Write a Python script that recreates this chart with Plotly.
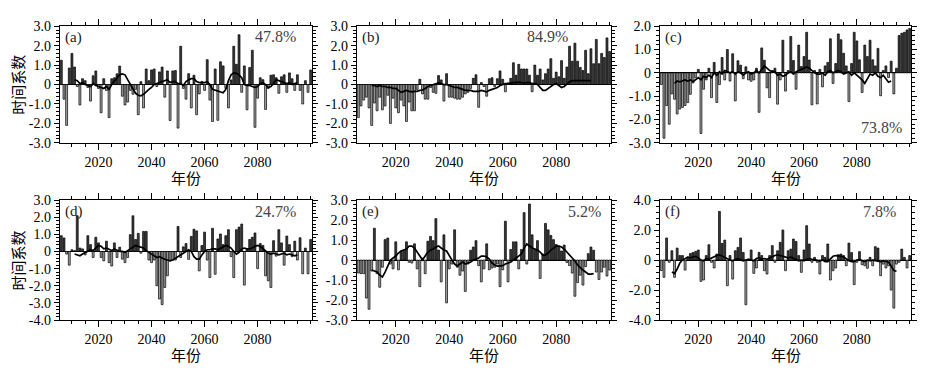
import plotly.graph_objects as go
from plotly.subplots import make_subplots

YEARS = list(range(2006, 2101))

bars_a = [1.25, -0.75, -2.1, 0.85, 1.6, 0.9, -0.1, -1.05, 0.3, 0.2,
          -0.15, -0.85, 0.45, 0.7, -0.2, -1.45, 0.3, -0.3, -1.7, 0.3,
          0.35, 0.55, 0.95, -0.6, -1.05, -0.9, -0.3, -0.5, -0.25, -1.55,
          0.15, -1.2, 0.8, 0.2, 0.75, 0.8, -0.1, 0.65, 0.9, -0.65,
          0.7, -1.85, 0.7, 0.72, -2.24, 1.97, -0.2, -0.75, 0.56, -1.2,
          0.48, -1.55, -0.48, 0.16, -0.3, 1.28, -0.8, -1.9, 0.8, -1.84,
          1.17, 0.96, -0.2, -1.2, 0.24, 1.97, 1.04, 2.56, -0.4, 0.96,
          -1.3, 0.88, 1.76, -2.2, -0.7, 0.35, 0.25, -1.28, -0.2, 0.48,
          0.5, 0.35, -0.45, 0.4, 0.5, -0.4, 0.6, 0.3, -0.3, 0.5,
          -0.3, -1.0, 0.2, -0.4, 0.75]
bars_b = [-1.7, -1.1, -0.8, -0.65, -1.2, -2.1, -0.95, -1.35, -0.65, -1.3,
          -1.1, -0.55, -2.0, -0.7, -1.2, -1.45, -0.8, -1.1, -1.9, -0.9,
          -1.35, -1.35, -0.25, 0.27, -0.48, -0.75, -0.75, -0.15, -0.4, -0.45,
          0.46, 0.24, -0.85, 0.56, -0.65, -0.65, -0.7, -0.75, -0.75, -0.65,
          -0.48, -0.4, -0.2, 0.32, 0.5, -1.17, 0.1, -0.1, -0.6, 0.3,
          0.35, -0.1, 0.3, 0.7, 0.27, -0.37, 0.08, 0.32, 1.12, 0.48,
          1.04, 0.8, 0.8, 0.8, 0.48, -0.37, 1.0, 0.48, 0.8, 0.24,
          0.56, 0.8, 1.33, 0.32, 0.64, 0.4, 1.23, 0.32, 0.9, 1.97,
          1.2, 2.13, 1.2, 0.88, 0.72, 1.76, 0.56, 1.84, 1.07, 2.32,
          1.07, 1.6, 1.39, 2.4, 1.7]
bars_c = [-0.5, -2.8, -1.4, -2.2, -0.9, -1.13, -1.76, -1.55, -1.48, -1.4,
          -1.27, -0.92, -0.43, -0.2, 0.15, -2.6, -0.7, -0.3, 0.2, -1.06,
          0.45, -1.27, -0.5, 0.66, -0.3, 1.0, -0.35, 0.82, -1.2, 0.52,
          0.33, -0.25, 0.26, -0.3, -0.36, -0.3, 0.2, -1.69, 1.07, 0.54,
          -0.64, -1.06, 0.1, 0.2, -1.34, -0.3, 1.4, -0.78, 0.1, 1.56,
          0.53, -0.7, 1.19, 0.27, 0.7, 1.74, 0.55, -1.37, 0.1, -1.33,
          0.15, -0.6, 0.3, 0.45, 1.46, -0.45, 0.4, 1.67, 1.42, 0.84,
          0.3, -1.23, 0.4, 1.74, 1.37, 0.56, -0.84, 1.19, 0.7, 1.4,
          0.56, 0.3, 1.05, -0.98, 0.1, 0.3, -0.2, 0.5, -0.9, 0.2,
          1.6, 1.7, 1.74, 1.84, 1.9]
bars_d = [0.92, 0.79, -0.15, -0.8, 0.1, 0.05, 2.08, 0.2, 0.15, -0.2,
          0.92, 0.4, -0.35, 0.83, 0.5, -0.35, -0.55, 0.6, -0.65, -0.85,
          0.5, -0.35, 0.25, -0.45, -0.65, -0.35, 0.98, 2.08, 0.7, 1.06,
          -0.1, 1.17, 1.17, -0.5, -0.65, -0.5, -2.0, -2.77, -3.1, -2.1,
          -1.42, -0.55, -0.5, -0.5, 1.46, -0.35, 0.27, 0.46, -0.46, 0.88,
          1.3, 1.2, -1.13, 0.35, 1.13, -0.5, -1.52, 1.35, -1.33, 0.73,
          1.02, 0.4, 0.92, 1.27, -0.3, -1.52, 1.27, 1.42, 1.6, -1.96,
          0.15, 0.7, 0.83, 1.08, -1.0, 0.46, 0.35, -1.42, -1.71, -2.1,
          0.63, -0.27, 1.27, 0.5, -0.8, 0.9, 0.4, -0.3, 0.6, -0.5,
          0.8, -1.3, 0.2, -1.3, 0.7]
bars_e = [-0.65, -0.68, -0.68, -1.9, -2.46, -0.55, 1.59, -0.68, -1.36, -0.36,
          1.02, 1.1, -0.2, -0.44, 0.91, -0.49, 0.45, 0.49, 0.91, -0.11,
          -0.15, 0.81, -0.44, -1.33, 0.1, -0.68, 0.94, 1.18, 0.97, 2.07,
          0.5, -1.09, 1.26, -2.14, -0.44, -0.2, 1.51, -0.36, -0.76, -0.55,
          -1.57, -0.2, 0.49, 0.65, 0.97, -0.28, -1.09, -0.44, 0.81, -0.49,
          -0.4, -0.36, -0.2, -1.33, -0.49, 1.94, -1.09, 0.53, 0.91, 0.91,
          -0.44, 0.53, 2.37, -0.2, 2.8, 1.26, 0.53, 0.97, -0.92, 0.3,
          1.83, 1.51, 1.23, 1.02, 0.78, 0.7, 0.45, 0.75, -0.12, -0.28,
          -0.65, -1.81, -1.13, -0.76, -1.25, -0.33, 0.32, 0.65, 0.49, -0.6,
          -0.97, -0.6, -0.36, -0.8, -0.5]
bars_f = [-0.7, -1.15, 1.47, -0.15, 0.62, -1.15, 0.8, 0.3, 0.3, -0.67,
          0.2, 0.44, 0.5, 0.58, 0.67, -1.42, -1.33, 0.3, 1.02, -0.15,
          -0.53, 0.4, 3.24, 1.11, 1.33, -1.71, 0.3, -1.27, 0.62, 0.84,
          1.47, 0.51, -2.98, 0.07, 0.67, -0.89, -0.53, 0.51, 0.3, -0.71,
          -0.93, 0.3, 0.96, -0.15, 0.62, 1.18, 2.0, -0.71, 0.62, 0.73,
          1.4, 1.24, 0.3, -0.82, 0.67, 2.29, 1.07, -0.15, 0.18, -0.15,
          -0.93, 0.3, 0.18, 1.07, -1.33, -0.71, -0.53, 0.36, 0.4, 0.3,
          -0.38, 1.13, 0.5, -1.64, -0.15, 0.56, -0.31, -0.38, -0.55, 0.18,
          -0.38, 0.89, 0.8, -1.04, -0.27, -0.53, -0.38, -2.0, -3.2, -0.27,
          -0.15, 0.73, 0.18, -0.53, 0.3]

# smoothed curves, first year + yearly values
line_a_start = 2011
line_a = [0.25, 0.2, 0.05, 0.1, 0.0, -0.05, -0.1, 0.05, -0.05, -0.1,
          -0.15, -0.2, -0.1, -0.25, 0.0, 0.15, 0.3, 0.5, 0.55, 0.5,
          0.25, 0.0, -0.2, -0.45, -0.55, -0.58, -0.5, -0.35, -0.25, -0.15,
          0.0, 0.05, 0.1, 0.15, 0.2, 0.25, 0.1, 0.15, 0.15, 0.05,
          0.05, -0.05, 0.15, 0.25, 0.3, 0.3, 0.15, 0.1, 0.1, 0.1,
          0.15, 0.0, -0.25, -0.3, -0.35, -0.4, -0.42, -0.25, 0.2, 0.5,
          0.6, 0.58, 0.5, 0.35, 0.0, -0.05, -0.05, -0.1, -0.15, -0.1,
          0.05, 0.1, 0.0, -0.15, -0.1, 0.05, 0.25, 0.2, 0.15, 0.1,
          0.05, 0.1, 0.0, 0.05, 0.1]
line_b_start = 2011
line_b = [-0.05, -0.05, -0.1, -0.05, -0.1, -0.1, -0.15, -0.15, -0.2, -0.2,
          -0.3, -0.4, -0.35, -0.3, -0.35, -0.38, -0.35, -0.35, -0.3, -0.28,
          -0.2, -0.1, -0.05, 0.0, 0.05, 0.08, 0.05, 0.0, 0.0, -0.05,
          -0.1, -0.15, -0.15, -0.2, -0.25, -0.3, -0.3, -0.3, -0.35, -0.35,
          -0.35, -0.3, -0.35, -0.38, -0.3, -0.25, -0.2, -0.15, -0.05, 0.0,
          0.05, 0.05, 0.08, 0.1, 0.1, 0.12, 0.1, 0.08, 0.1, 0.1,
          0.05, 0.05, 0.0, -0.15, -0.3, -0.3, -0.2, -0.1, 0.0, 0.05,
          -0.05, -0.15, -0.1, 0.05, 0.15, 0.2, 0.2, 0.18, 0.2, 0.2,
          0.18, 0.2, 0.2]
line_c_start = 2011
line_c = [-0.45, -0.35, -0.38, -0.35, -0.3, -0.35, -0.3, -0.38, -0.3, -0.2,
          -0.3, -0.15, -0.2, -0.1, -0.2, 0.0, -0.1, 0.05, -0.05, 0.1,
          0.05, 0.0, 0.05, -0.05, 0.05, 0.0, -0.1, 0.0, 0.05, -0.05,
          0.0, 0.1, 0.0, 0.15, 0.3, 0.2, 0.1, 0.05, 0.05, -0.1,
          -0.05, -0.15, -0.1, 0.0, 0.05, -0.05, 0.05, 0.1, 0.15, 0.2,
          0.25, 0.2, 0.1, 0.0, -0.05, -0.05, 0.0, -0.1, 0.05, 0.1,
          0.0, 0.05, 0.1, 0.05, -0.05, 0.0, 0.05, -0.1, 0.0, -0.1,
          -0.2, -0.3, -0.45, -0.25, -0.05, -0.1, 0.0, -0.15, -0.2, -0.1,
          -0.25, -0.4, -0.35]
line_d_start = 2011
line_d = [-0.15, -0.2, -0.25, -0.15, -0.05, 0.05, 0.1, 0.05, 0.2, 0.35,
          0.3, 0.15, 0.2, 0.1, 0.05, 0.15, 0.05, 0.0, 0.0, -0.05,
          0.05, 0.15, 0.3, 0.35, 0.3, 0.25, 0.2, 0.05, -0.05, -0.2,
          -0.3, -0.35, -0.3, -0.4, -0.45, -0.5, -0.55, -0.5, -0.4, -0.3,
          -0.2, -0.1, 0.0, 0.1, 0.0, -0.3, -0.45, -0.45, -0.2, 0.0,
          0.1, 0.1, 0.15, 0.15, 0.1, 0.2, 0.3, 0.35, 0.3, 0.2,
          0.0, -0.15, -0.05, 0.15, 0.2, 0.15, 0.15, 0.2, 0.3, 0.35,
          0.3, 0.15, 0.0, -0.1, -0.15, -0.1, -0.15, -0.2, -0.15, -0.1,
          -0.2, -0.15, -0.2, -0.25, -0.2]
line_e_start = 2011
line_e = [-0.5, -0.55, -0.6, -0.75, -0.85, -0.6, -0.3, 0.0, 0.1, 0.2,
          0.35, 0.45, 0.5, 0.55, 0.7, 0.7, 0.6, 0.4, 0.15, 0.0,
          0.2, 0.4, 0.5, 0.55, 0.65, 0.7, 0.6, 0.5, 0.45, 0.2,
          0.0, -0.2, -0.3, -0.2, -0.1, -0.2, -0.15, -0.1, 0.0, 0.05,
          0.1, 0.2, 0.2, 0.15, 0.05, -0.15, -0.25, -0.3, -0.3, -0.28,
          -0.2, -0.15, -0.1, 0.0, 0.1, 0.2, 0.3, 0.6, 0.8, 0.7,
          0.6, 0.55, 0.5, 0.4, 0.25, 0.25, 0.35, 0.5, 0.6, 0.7,
          0.7, 0.65, 0.55, 0.4, 0.3, 0.1, -0.05, -0.25, -0.4, -0.5,
          -0.6, -0.7, -0.7, -0.68]
line_f_start = 2010
line_f = [-0.8, -0.9, -0.6, -0.2, 0.0, 0.1, 0.2, 0.15, 0.2, 0.25,
          0.15, 0.0, -0.05, 0.1, 0.05, 0.15, 0.2, 0.3, 0.35, 0.25,
          0.2, 0.1, 0.0, -0.05, 0.05, 0.1, 0.0, -0.05, 0.0, 0.05,
          0.0, -0.05, 0.1, 0.15, 0.05, 0.1, 0.05, 0.15, 0.2, 0.3,
          0.35, 0.3, 0.25, 0.2, 0.15, 0.2, 0.1, 0.0, -0.05, 0.0,
          -0.05, 0.05, 0.1, 0.05, 0.0, 0.0, -0.05, 0.0, -0.1, -0.1,
          0.1, 0.25, 0.3, 0.3, 0.25, 0.2, 0.05, -0.05, -0.1, -0.1,
          0.0, 0.05, -0.05, -0.1, 0.0, -0.05, 0.0, -0.05, -0.1, -0.1,
          -0.05, -0.1, -0.15, -0.4, -0.7, -0.75]

panel_labels = ["(a)", "(b)", "(c)", "(d)", "(e)", "(f)"]
percent_labels = ["47.8%", "84.9%", "73.8%", "24.7%", "5.2%", "7.8%"]
y_ranges = [(-3, 3), (-3, 3), (-3, 2), (-4, 3), (-3, 3), (-4, 4)]
y_steps = [1, 1, 1, 1, 1, 2]
x_ticks = [2020, 2040, 2060, 2080]
x_title = "年份"
y_title = "时间系数"

bars = [bars_a, bars_b, bars_c, bars_d, bars_e, bars_f]
lines = [(line_a_start, line_a), (line_b_start, line_b), (line_c_start, line_c),
         (line_d_start, line_d), (line_e_start, line_e), (line_f_start, line_f)]

W, H = 930, 378
SERIF = "Liberation Serif"
CJK = "Noto Sans CJK SC"
DARK = "#3a3a3a"
LIGHT = "#a6a6a6"

x_px = [(60, 312), (357, 611), (660, 911)]
y_px = [(20, 141.5), (201, 326)]

fig = make_subplots(rows=2, cols=3)

for i in range(6):
    r, c = i // 3 + 1, i % 3 + 1
    vals = bars[i]
    cols = [DARK if v >= 0 else LIGHT for v in vals]
    fig.add_trace(go.Bar(x=YEARS, y=vals, width=0.72,
                         marker=dict(color=cols, line=dict(color="black", width=0.7)),
                         showlegend=False, hoverinfo="skip"), row=r, col=c)
    st, lv = lines[i]
    fig.add_trace(go.Scatter(x=list(range(st, st + len(lv))), y=lv, mode="lines",
                             line=dict(color="black", width=1.7),
                             showlegend=False, hoverinfo="skip"), row=r, col=c)

annotations = []
for i in range(6):
    ri, ci = i // 3, i % 3
    sfx = "" if i == 0 else str(i + 1)
    x0, x1 = x_px[ci]
    y0, y1 = y_px[ri]
    lo, hi = y_ranges[i]
    step = y_steps[i]
    tv = list(range(lo, hi + 1, step))
    tt = ["0" if v == 0 else f"{v:.1f}" for v in tv]
    mstep = 0.2 * step
    n = int(round((hi - lo) / mstep))
    mv = [round(lo + k * mstep, 3) for k in range(n + 1)]
    fig.update_layout(**{
        "xaxis" + sfx: dict(domain=[x0 / W, x1 / W], range=[2005.5, 2100.5],
                            tickmode="array", tickvals=x_ticks,
                            ticks="outside", ticklen=6, tickwidth=1, tickcolor="black",
                            showline=True, linecolor="black", linewidth=1.4,
                            mirror="allticks", showgrid=False, zeroline=False,
                            tickfont=dict(family=SERIF, size=14, color="black"),
                            minor=dict(tickmode="array", tickvals=list(range(2010, 2101, 5)),
                                       ticks="outside", ticklen=3, tickcolor="black", showgrid=False)),
        "yaxis" + sfx: dict(domain=[1 - y1 / H, 1 - y0 / H], range=[lo, hi],
                            tickmode="array", tickvals=tv, ticktext=tt,
                            ticks="outside", ticklen=5, tickwidth=1, tickcolor="black",
                            showline=True, linecolor="black", linewidth=1.4,
                            mirror="allticks", showgrid=False,
                            zeroline=True, zerolinecolor="black", zerolinewidth=1.2,
                            tickfont=dict(family=SERIF, size=14, color="black"),
                            minor=dict(tickmode="array", tickvals=mv,
                                       ticks="outside", ticklen=3, tickcolor="black", showgrid=False)),
    })
    annotations.append(dict(x=(x0 + 3) / W, y=1 - (y0 + 12) / H, xref="paper", yref="paper",
                            text=panel_labels[i], showarrow=False, xanchor="left", yanchor="middle",
                            font=dict(family=SERIF, size=15, color="#222")))
    annotations.append(dict(x=(x0 + x1) / 2 / W, y=1 - (y1 + 36) / H, xref="paper", yref="paper",
                            text=x_title, showarrow=False, xanchor="center", yanchor="middle",
                            font=dict(family=CJK, size=15, color="black")))

pct_pos = [(298, 31, "right"), (547, 31, "center"), (881, 126, "center"),
           (298, 213, "right"), (603, 213, "right"), (898, 213, "right")]
for i, (px, py, anc) in enumerate(pct_pos):
    annotations.append(dict(x=px / W, y=1 - py / H, xref="paper", yref="paper",
                            text=percent_labels[i], showarrow=False, xanchor=anc, yanchor="middle",
                            font=dict(family=SERIF, size=16, color="#444")))

for yc in (81, 264):
    annotations.append(dict(x=18 / W, y=1 - yc / H, xref="paper", yref="paper",
                            text=y_title, showarrow=False, textangle=-90,
                            xanchor="center", yanchor="middle",
                            font=dict(family=CJK, size=15, color="black")))

fig.update_layout(width=W, height=H, autosize=False,
                  margin=dict(l=0, r=0, t=0, b=0),
                  paper_bgcolor="white", plot_bgcolor="white",
                  barmode="overlay", annotations=annotations,
                  font=dict(family=SERIF, color="black"))

fig.write_html("out.html", config={"displayModeBar": False},
               post_script="document.body.style.margin='0';document.body.style.padding='0';")
